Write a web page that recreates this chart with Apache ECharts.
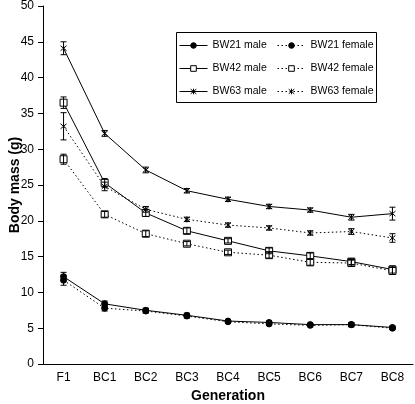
<!DOCTYPE html>
<html><head><meta charset="utf-8">
<script src="https://cdn.jsdelivr.net/npm/echarts@6/dist/echarts.min.js"></script>
<style>html,body{margin:0;padding:0;background:#fff}#c{width:415px;height:404px}</style>
</head><body><div id="c"></div>
<script>
const categories = ['F1','BC1','BC2','BC3','BC4','BC5','BC6','BC7','BC8'];
const bw21Male   = [12.2, 8.4, 7.5, 6.8, 6.0, 5.8, 5.5, 5.5, 5.1];
const bw21Female = [11.7, 7.8, 7.4, 6.7, 5.9, 5.6, 5.4, 5.5, 5.0];
const bw42Male   = [36.5, 25.3, 21.1, 18.6, 17.2, 15.8, 15.1, 14.3, 13.2];
const bw42Female = [28.6, 20.9, 18.2, 16.8, 15.6, 15.2, 14.2, 14.1, 13.0];
const bw63Male   = [44.1, 32.2, 27.1, 24.2, 23.0, 22.0, 21.5, 20.5, 21.0];
const bw63Female = [33.2, 24.8, 21.6, 20.2, 19.4, 19.0, 18.3, 18.5, 17.6];
const bw21MaleErr   = [0.6, 0.4, 0.3, 0.3, 0.2, 0.2, 0.2, 0.3, 0.2];
const bw21FemaleErr = [0.7, 0.4, 0.3, 0.3, 0.2, 0.2, 0.2, 0.3, 0.2];
const bw42MaleErr   = [0.8, 0.6, 0.5, 0.4, 0.3, 0.4, 0.4, 0.4, 0.5];
const bw42FemaleErr = [0.7, 0.4, 0.4, 0.3, 0.3, 0.4, 0.4, 0.4, 0.5];
const bw63MaleErr   = [0.9, 0.4, 0.4, 0.3, 0.3, 0.3, 0.3, 0.4, 0.9];
const bw63FemaleErr = [1.9, 0.6, 0.4, 0.3, 0.3, 0.3, 0.3, 0.4, 0.6];
const yTicks = {min: 0, max: 50, interval: 5};

const starPath = 'path://M-1,-1L1,1M-1,1L1,-1M0,-1.2L0,1.2';
const FONT = 'Liberation Sans';

function lineSeries(name, data, symbol, size, dotted, hollow) {
  return {
    name, type: 'line', data, symbol, symbolSize: size,
    showSymbol: true,
    lineStyle: {color: '#000', width: 1, type: dotted ? [1.5, 2.5] : 'solid'},
    itemStyle: {color: hollow ? '#fff' : '#000', borderColor: '#000', borderWidth: 1},
    z: 3, animation: false
  };
}
function errSeries(vals, errs) {
  return {
    type: 'custom', silent: true, z: 4,
    data: vals.map((v, i) => [i, v - errs[i], v + errs[i]]),
    renderItem: function (params, api) {
      const lo = api.coord([api.value(0), api.value(1)]);
      const hi = api.coord([api.value(0), api.value(2)]);
      const w = 3;
      const st = {stroke: '#000', lineWidth: 1};
      return {type: 'group', children: [
        {type: 'line', shape: {x1: lo[0], y1: lo[1], x2: hi[0], y2: hi[1]}, style: st},
        {type: 'line', shape: {x1: lo[0]-w, y1: lo[1], x2: lo[0]+w, y2: lo[1]}, style: st},
        {type: 'line', shape: {x1: hi[0]-w, y1: hi[1], x2: hi[0]+w, y2: hi[1]}, style: st}
      ]};
    },
    animation: false
  };
}

const chart = echarts.init(document.getElementById('c'), null, {renderer: 'canvas'});
const legendText = {fontFamily: FONT, fontSize: 10.5, color: '#000'};
const legendCommon = {orient: 'vertical', top: 40, itemWidth: 28, itemHeight: 7, itemGap: 12,
  textStyle: legendText, padding: 0, lineStyle: {width: 1}, itemStyle: {borderWidth: 1}};
chart.setOption({
  backgroundColor: '#fff',
  animation: false,
  textStyle: {fontFamily: FONT},
  grid: {left: 43, right: 2, top: 6, bottom: 40, containLabel: false, outerBoundsMode: 'none'},
  xAxis: {
    type: 'category', data: categories, boundaryGap: true,
    axisLine: {lineStyle: {color: '#000', width: 1}},
    axisTick: {length: 4, alignWithLabel: false, lineStyle: {color: '#000'}},
    axisLabel: {color: '#000', fontFamily: FONT, fontSize: 12, margin: 8},
    name: 'Generation', nameLocation: 'middle', nameGap: 25, nameMoveOverlap: false,
    nameTextStyle: {color: '#000', fontFamily: FONT, fontSize: 14, fontWeight: 'bold'}
  },
  yAxis: {
    type: 'value', min: yTicks.min, max: yTicks.max, interval: yTicks.interval,
    axisLine: {show: true, lineStyle: {color: '#000', width: 1}},
    axisTick: {show: true, length: 5, lineStyle: {color: '#000'}},
    splitLine: {show: false},
    axisLabel: {color: '#000', fontFamily: FONT, fontSize: 12, margin: 9},
    name: 'Body mass (g)', nameLocation: 'middle', nameGap: 21, nameMoveOverlap: false,
    nameTextStyle: {color: '#000', fontFamily: FONT, fontSize: 14, fontWeight: 'bold'}
  },
  legend: [
    Object.assign({left: 179, data: ['BW21 male', 'BW42 male', 'BW63 male']}, legendCommon),
    Object.assign({left: 277, data: ['BW21 female', 'BW42 female', 'BW63 female']}, legendCommon)
  ],
  graphic: [{type: 'rect', shape: {x: 176.5, y: 32.5, width: 200, height: 70},
             style: {fill: 'none', stroke: '#000', lineWidth: 1}, z: 1}],
  series: [
    lineSeries('BW21 male', bw21Male, 'circle', 6, false, false),
    lineSeries('BW21 female', bw21Female, 'circle', 6, true, false),
    lineSeries('BW42 male', bw42Male, 'rect', 7, false, true),
    lineSeries('BW42 female', bw42Female, 'rect', 7, true, true),
    lineSeries('BW63 male', bw63Male, starPath, 6, false, false),
    lineSeries('BW63 female', bw63Female, starPath, 6, true, false),
    errSeries(bw21Male, bw21MaleErr), errSeries(bw21Female, bw21FemaleErr),
    errSeries(bw42Male, bw42MaleErr), errSeries(bw42Female, bw42FemaleErr),
    errSeries(bw63Male, bw63MaleErr), errSeries(bw63Female, bw63FemaleErr)
  ]
});
</script></body></html>
